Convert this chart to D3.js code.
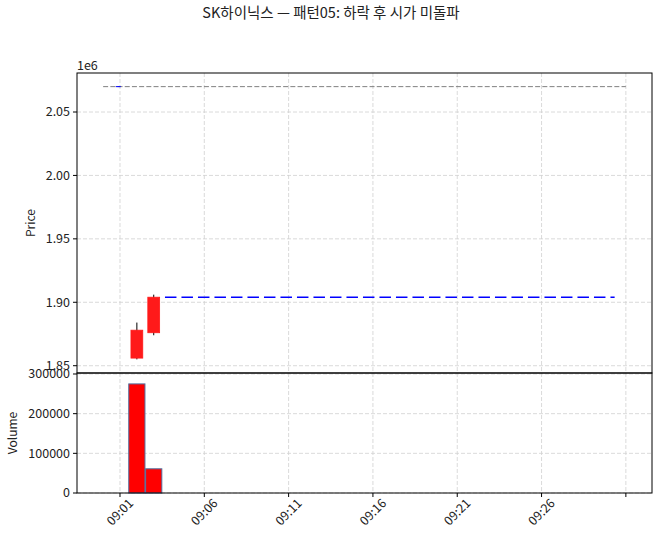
<!DOCTYPE html>
<html>
<head>
<meta charset="utf-8">
<script src="https://cdn.jsdelivr.net/npm/d3@7"></script>
<style>
  body { margin: 0; background: #fff; }
  svg text { font-family: "Noto Sans CJK KR", "Noto Sans", sans-serif; fill: #222; }
</style>
</head>
<body>
<div id="chart"></div>
<script>
// Data
const times = ["09:02", "09:03"];
const opens = [1856000, 1876000];
const highs = [1884000, 1906000];
const lows = [1855000, 1874000];
const closes = [1878000, 1904000];
const volumes = [275000, 61000];

const refLevel = 2070000;              // gray reference level
const refSpan = ["09:00:00", "09:31:00"];
const markSpan = ["09:00:45", "09:01:10"];
const breakLevel = 1904000;            // blue level
const breakSpan = ["09:03:40", "09:30:20"];

const xTicks = ["09:01", "09:06", "09:11", "09:16", "09:21", "09:26", "09:31"];
const xTickLabels = ["09:01", "09:06", "09:11", "09:16", "09:21", "09:26", ""];
const priceTicks = [1850000, 1900000, 1950000, 2000000, 2050000];
const priceTickLabels = ["1.85", "1.90", "1.95", "2.00", "2.05"];
const volTicks = [0, 100000, 200000, 300000];
const volTickLabels = ["0", "100000", "200000", "300000"];

const title = "SK하이닉스 — 패턴05: 하락 후 시가 미돌파";

// Helpers
const parseT = s => {
    const p = s.split(":").map(Number);
    return new Date(2024, 0, 2, p[0], p[1], p[2] || 0);
};
const addMin = (d, m) => new Date(d.getTime() + m * 60000);

const width = 660, height = 542;
const left = 77, right = 652;
const top1 = 73, bottom1 = 373, top2 = 373, bottom2 = 493;

const svg = d3.select("#chart").append("svg")
    .attr("width", width)
    .attr("height", height);

// Scales
const t0 = parseT(refSpan[0]), t1 = parseT(refSpan[1]);
const tPad = (t1 - t0) * 0.05;
const x = d3.scaleTime()
    .domain([new Date(t0.getTime() - tPad), new Date(t1.getTime() + tPad)])
    .range([left, right]);

const pMin = d3.min(lows), pMax = d3.max([refLevel, d3.max(highs)]);
const pPad = (pMax - pMin) * 0.05;
const yP = d3.scaleLinear()
    .domain([pMin - pPad, pMax + pPad])
    .range([bottom1, top1]);

const yV = d3.scaleLinear()
    .domain([0, d3.max(volumes) * 1.1])
    .range([bottom2, top2]);

// Grids
function grid(yScale, ticks, yTop, yBot) {
    const g = svg.append("g").attr("stroke", "#d0d0d0").attr("stroke-width", 0.8)
        .attr("stroke-dasharray", "4,2");
    xTicks.forEach(t => {
        g.append("line")
            .attr("x1", x(parseT(t))).attr("x2", x(parseT(t)))
            .attr("y1", yTop).attr("y2", yBot);
    });
    ticks.forEach(v => {
        g.append("line")
            .attr("x1", left).attr("x2", right)
            .attr("y1", yScale(v)).attr("y2", yScale(v));
    });
}
grid(yP, priceTicks, top1, bottom1);
grid(yV, volTicks, top2, bottom2);

// Reference lines
svg.append("line")
    .attr("x1", x(parseT(refSpan[0]))).attr("x2", x(parseT(refSpan[1])))
    .attr("y1", yP(refLevel)).attr("y2", yP(refLevel))
    .attr("stroke", "#808080").attr("stroke-width", 1)
    .attr("stroke-dasharray", "5,2.2");

svg.append("line")
    .attr("x1", x(parseT(markSpan[0]))).attr("x2", x(parseT(markSpan[1])))
    .attr("y1", yP(refLevel)).attr("y2", yP(refLevel))
    .attr("stroke", "#0000ff").attr("stroke-width", 1)
    .attr("stroke-dasharray", "5,2.2");

svg.append("line")
    .attr("x1", x(parseT(breakSpan[0]))).attr("x2", x(parseT(breakSpan[1])))
    .attr("y1", yP(breakLevel)).attr("y2", yP(breakLevel))
    .attr("stroke", "#0000ff").attr("stroke-width", 1.5)
    .attr("stroke-dasharray", "11.5,5");

// Candles
const candles = times.map((t, i) => ({
    t: parseT(t), o: opens[i], h: highs[i], l: lows[i], c: closes[i], v: volumes[i]
}));

const cg = svg.append("g");
cg.selectAll("line.wick").data(candles).join("line")
    .attr("class", "wick")
    .attr("x1", d => x(d.t)).attr("x2", d => x(d.t))
    .attr("y1", d => yP(d.h)).attr("y2", d => yP(d.l))
    .attr("stroke", "#000").attr("stroke-width", 1);

cg.selectAll("rect.body").data(candles).join("rect")
    .attr("class", "body")
    .attr("x", d => x(addMin(d.t, -0.35)))
    .attr("width", d => x(addMin(d.t, 0.35)) - x(addMin(d.t, -0.35)))
    .attr("y", d => yP(Math.max(d.o, d.c)))
    .attr("height", d => Math.abs(yP(d.o) - yP(d.c)))
    .attr("fill", d => d.c >= d.o ? "#ff1a1a" : "#1a1aff")
    .attr("stroke", d => d.c >= d.o ? "#ff1a1a" : "#1a1aff")
    .attr("stroke-width", 0.8);

// Volume bars
svg.append("g").selectAll("rect").data(candles).join("rect")
    .attr("x", d => x(addMin(d.t, -0.48)))
    .attr("width", d => x(addMin(d.t, 0.48)) - x(addMin(d.t, -0.48)))
    .attr("y", d => yV(d.v))
    .attr("height", d => yV(0) - yV(d.v))
    .attr("fill", "#ff0000")
    .attr("stroke", "#4f6f9f")
    .attr("stroke-width", 1);

// Frames
[[top1, bottom1], [top2, bottom2]].forEach(([a, b]) => {
    svg.append("rect")
        .attr("x", left).attr("y", a)
        .attr("width", right - left).attr("height", b - a)
        .attr("fill", "none").attr("stroke", "#000").attr("stroke-width", 1);
});

// Y axes
function yAxis(yScale, ticks, labels) {
    const g = svg.append("g");
    ticks.forEach((v, i) => {
        g.append("line")
            .attr("x1", left - 4).attr("x2", left)
            .attr("y1", yScale(v)).attr("y2", yScale(v))
            .attr("stroke", "#000");
        g.append("text")
            .attr("x", left - 7).attr("y", yScale(v))
            .attr("dy", "0.35em")
            .attr("text-anchor", "end")
            .style("font-size", "12.5px")
            .text(labels[i]);
    });
}
yAxis(yP, priceTicks, priceTickLabels);
yAxis(yV, volTicks, volTickLabels);

svg.append("text")
    .attr("x", left).attr("y", top1 - 3)
    .style("font-size", "12.5px")
    .text("1e6");

// X axis: labels rotated 45 degrees, centred under the tick
xTicks.forEach((t, i) => {
    const px = x(parseT(t));
    svg.append("line")
        .attr("x1", px).attr("x2", px)
        .attr("y1", bottom2).attr("y2", bottom2 + 4)
        .attr("stroke", "#000");
    svg.append("text")
        .attr("text-anchor", "middle")
        .attr("transform", `translate(${px},${bottom2 + 19}) rotate(-45)`)
        .attr("dy", "0.35em")
        .style("font-size", "12.5px")
        .text(xTickLabels[i]);
});

// Axis labels
svg.append("text")
    .attr("transform", `translate(35,${(top1 + bottom1) / 2}) rotate(-90)`)
    .attr("text-anchor", "middle")
    .style("font-size", "12px")
    .text("Price");

svg.append("text")
    .attr("transform", `translate(17,${(top2 + bottom2) / 2}) rotate(-90)`)
    .attr("text-anchor", "middle")
    .style("font-size", "12px")
    .text("Volume");

// Title
svg.append("text")
    .attr("x", 331).attr("y", 18)
    .attr("text-anchor", "middle")
    .style("font-size", "14.5px")
    .text(title);
</script>
</body>
</html>
